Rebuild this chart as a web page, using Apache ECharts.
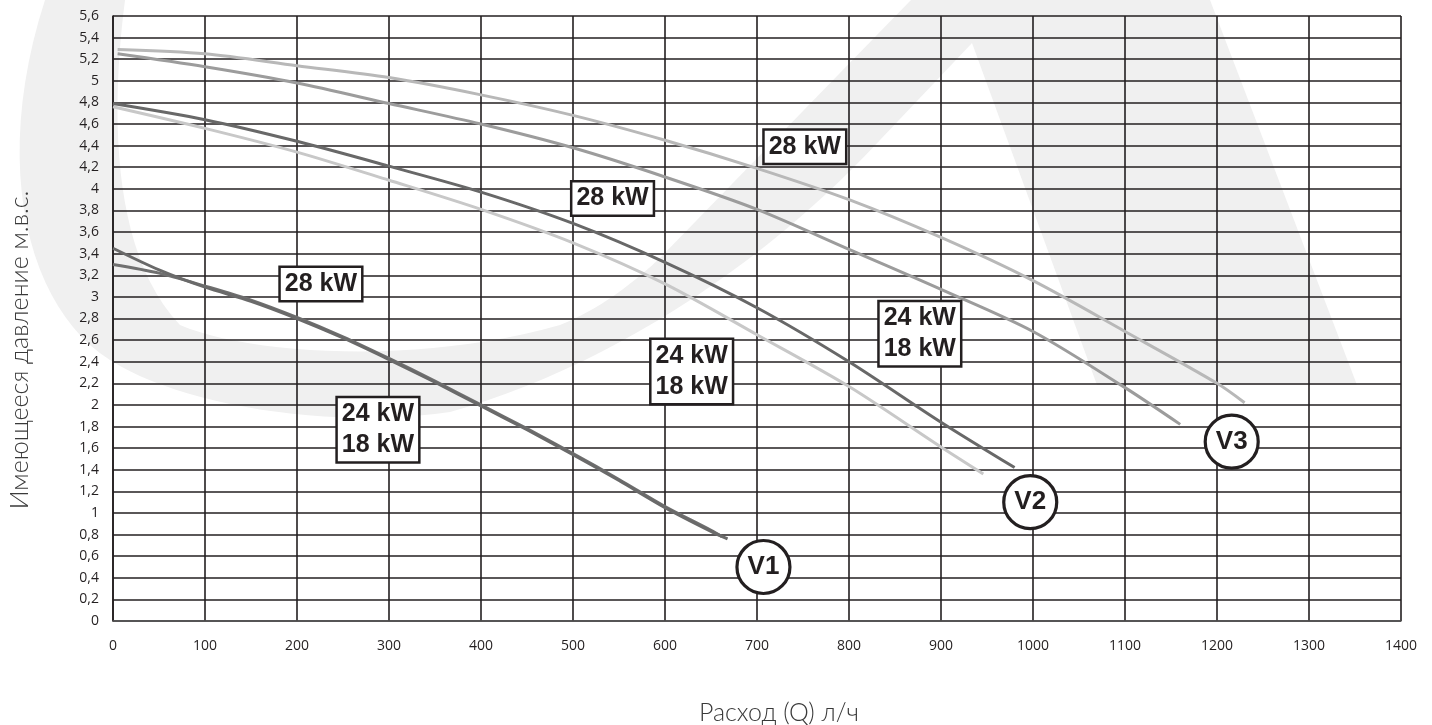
<!DOCTYPE html>
<html>
<head>
<meta charset="utf-8">
<script src="https://cdn.jsdelivr.net/npm/echarts@6/dist/echarts.min.js"></script>
<style>
html,body{margin:0;padding:0;background:#fff;}
#chart{width:1432px;height:725px;}
</style>
</head>
<body>
<div id="chart"></div>
<script>
// ---- data (flow in l/h, available head in m w.c.) ----
const flowV1a = [0, 50, 100, 150, 200, 250, 300, 350, 400, 450, 500, 550, 600, 650, 668];
const headV1a = [3.45, 3.25, 3.09, 2.96, 2.80, 2.62, 2.42, 2.21, 1.99, 1.77, 1.54, 1.30, 1.05, 0.83, 0.76];
const flowV1b = [0, 50, 100, 150, 200, 250, 300, 350, 400, 450, 500, 550, 600, 650, 662];
const headV1b = [3.30, 3.22, 3.10, 2.97, 2.81, 2.63, 2.43, 2.22, 2.00, 1.78, 1.55, 1.31, 1.06, 0.84, 0.78];

const flowV2_28 = [0, 100, 200, 300, 400, 500, 600, 700, 800, 900, 980];
const headV2_28 = [4.79, 4.64, 4.44, 4.21, 3.97, 3.68, 3.32, 2.90, 2.40, 1.84, 1.42];
const flowV2_24 = [0, 100, 200, 300, 400, 500, 600, 700, 800, 900, 946];
const headV2_24 = [4.76, 4.56, 4.34, 4.08, 3.81, 3.50, 3.12, 2.65, 2.17, 1.61, 1.36];

const flowV3_28 = [5, 100, 200, 300, 400, 500, 600, 700, 800, 900, 1000, 1100, 1200, 1230];
const headV3_28 = [5.29, 5.25, 5.14, 5.03, 4.87, 4.68, 4.45, 4.19, 3.90, 3.55, 3.15, 2.68, 2.20, 2.02];
const flowV3_24 = [5, 100, 200, 300, 400, 500, 600, 700, 800, 900, 1000, 1100, 1160];
const headV3_24 = [5.25, 5.13, 4.98, 4.79, 4.60, 4.38, 4.11, 3.81, 3.44, 3.07, 2.68, 2.16, 1.82];

const powerLabels = ['28 kW', '24 kW\n18 kW', '28 kW', '24 kW\n18 kW', '28 kW', '24 kW\n18 kW'];
const powerLabelFlow = [226, 288, 543, 629, 752, 877];
const powerLabelHead = [3.12, 1.77, 3.91, 2.31, 4.39, 2.66];

const pumpNames = ['V1', 'V2', 'V3'];
const pumpFlow = [707, 997, 1216];
const pumpHead = [0.50, 1.10, 1.66];

const xTitle = 'Расход (Q) л/ч';
const yTitle = 'Имеющееся давление м.в.с.';

// ---- helpers ----
function pairs(xs, ys) { return xs.map((x, i) => [x, ys[i]]); }
function curve(xs, ys, color) {
  return {
    type: 'line', data: pairs(xs, ys), smooth: 0.3, symbol: 'none', z: 3,
    lineStyle: { color: color, width: 3, cap: 'butt' }, silent: true
  };
}

// decorative background watermark outline (pixel space), built from segments
function buildWatermark() {
  const pts = [];
  let cur = [45, 0];
  pts.push(cur);
  function L(x, y) { cur = [x, y]; pts.push(cur); }
  function C(x1, y1, x2, y2, x, y) {
    const p0 = cur;
    for (let i = 1; i <= 24; i++) {
      const t = i / 24, u = 1 - t;
      pts.push([
        u*u*u*p0[0] + 3*u*u*t*x1 + 3*u*t*t*x2 + t*t*t*x,
        u*u*u*p0[1] + 3*u*u*t*y1 + 3*u*t*t*y2 + t*t*t*y
      ]);
    }
    cur = [x, y];
  }
  function Q(x1, y1, x, y) {
    const p0 = cur;
    C(p0[0] + 2/3*(x1-p0[0]), p0[1] + 2/3*(y1-p0[1]), x + 2/3*(x1-x), y + 2/3*(y1-y), x, y);
  }
  L(125, 0);
  C(112, 100, 108, 250, 180, 325);
  C(250, 355, 420, 365, 560, 325);
  Q(610, 305, 660, 258);
  L(911, 0);
  L(1210, 0);
  L(1357, 385);
  L(1097, 385);
  L(972, 43);
  L(880, 140);
  C(760, 270, 600, 370, 450, 412);
  C(330, 430, 180, 405, 110, 360);
  C(30, 310, -10, 170, 45, 0);
  return pts;
}

const chart = echarts.init(document.getElementById('chart'), null, { renderer: 'canvas' });
const ink = '#231f20';

const option = {
  backgroundColor: '#ffffff',
  animation: false,
  graphic: [
    {
      type: 'polygon', z: -100, silent: true,
      shape: { points: buildWatermark() },
      style: { fill: '#f0f0f0' }
    },
    {
      type: 'text', z: 10, silent: true,
      x: 779, y: 713,
      style: { text: xTitle, fill: '#3a3a3a', font: '300 25px Lato', align: 'center', verticalAlign: 'middle' }
    },
    {
      type: 'text', z: 10, silent: true,
      x: 20, y: 350, rotation: Math.PI / 2,
      style: { text: yTitle, fill: '#3a3a3a', font: '300 25px Lato', align: 'center', verticalAlign: 'middle' }
    }
  ],
  grid: { left: 113, right: 31, top: 16, bottom: 104, containLabel: false, show: false },
  xAxis: {
    type: 'value', min: 0, max: 1400, interval: 100,
    axisLine: { show: true, lineStyle: { color: '#555', width: 1.5 } },
    axisTick: { show: false },
    axisLabel: { color: ink, fontSize: 14, fontFamily: 'Open Sans', margin: 18, formatter: v => String(v) },
    splitLine: { show: true, lineStyle: { color: ink, width: 1.6 } }
  },
  yAxis: {
    type: 'value', min: 0, max: 5.6, interval: 0.2,
    axisLine: { show: true, lineStyle: { color: ink, width: 1.6 } },
    axisTick: { show: false },
    axisLabel: {
      color: ink, fontSize: 14, fontFamily: 'Open Sans', margin: 14,
      formatter: v => String(Math.round(v * 10) / 10).replace('.', ',')
    },
    splitLine: { show: true, lineStyle: { color: ink, width: 1.6 } }
  },
  series: [
    curve(flowV3_28, headV3_28, '#b8b8b8'),
    curve(flowV3_24, headV3_24, '#9c9c9c'),
    curve(flowV2_24, headV2_24, '#c8c8c8'),
    curve(flowV2_28, headV2_28, '#686868'),
    curve(flowV1b, headV1b, '#707070'),
    curve(flowV1a, headV1a, '#6a6a6a'),
    {
      type: 'scatter', z: 6, silent: true,
      data: powerLabels.map((t, i) => ({ value: [powerLabelFlow[i], powerLabelHead[i]], name: t })),
      symbol: 'rect', symbolSize: 1, itemStyle: { color: '#ffffff', opacity: 1 },
      label: {
        show: true, position: 'inside', formatter: p => p.name,
        fontFamily: 'Liberation Sans', fontWeight: 'bold', fontSize: 25, lineHeight: 31,
        color: ink, align: 'center',
        backgroundColor: '#ffffff', borderColor: ink, borderWidth: 2.5,
        padding: [1, 4, 0, 4]
      }
    },
    {
      type: 'scatter', z: 7, silent: true,
      data: pumpNames.map((t, i) => ({ value: [pumpFlow[i], pumpHead[i]], name: t })),
      symbol: 'circle', symbolSize: 53,
      itemStyle: { color: '#ffffff', borderColor: ink, borderWidth: 3.2, opacity: 1 },
      label: {
        show: true, position: 'inside', formatter: p => p.name,
        fontFamily: 'Liberation Sans', fontWeight: 'bold', fontSize: 26, color: ink
      }
    }
  ]
};
chart.setOption(option);
</script>
</body>
</html>
